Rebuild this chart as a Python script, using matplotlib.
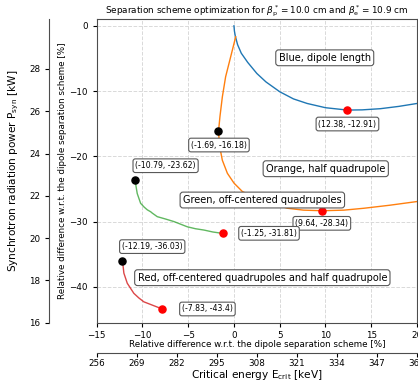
import matplotlib
matplotlib.use("Agg")
import matplotlib.pyplot as plt

# Relative difference curves [%]: x = critical energy change, y = power change
blue_x = [0.0, 0.05, 0.15, 0.4, 0.8, 1.5, 2.5, 3.5, 5.0, 6.5, 8.0, 10.0, 12.38, 14.0, 16.0, 18.0, 20.0, 21.0]
blue_y = [0.0, -0.8, -1.6, -2.9, -4.2, -5.6, -7.3, -8.6, -10.1, -11.2, -11.9, -12.55, -12.91, -12.88, -12.7, -12.35, -11.9, -11.65]

orange_x = [0.19, -0.36, -0.91, -1.27, -1.53, -1.69, -1.56, -1.27, -0.72, 0.0, 0.92, 2.0, 3.28, 4.5, 5.84, 7.6, 9.64, 12.0, 14.2, 17.0, 19.9, 21.0]
orange_y = [-1.68, -4.75, -7.8, -10.9, -13.9, -16.18, -18.5, -20.6, -22.6, -24.1, -25.4, -26.1, -26.7, -27.4, -27.96, -28.25, -28.34, -28.25, -27.96, -27.5, -26.95, -26.7]

green_x = [-10.79, -10.7, -10.57, -10.2, -9.8, -9.47, -9.1, -8.93, -8.38, -7.5, -6.56, -5.1, -4.2, -3.28, -2.3, -1.25]
green_y = [-23.62, -24.6, -25.7, -27.2, -27.8, -28.2, -28.5, -28.7, -29.25, -29.6, -30.0, -30.8, -31.1, -31.3, -31.6, -31.81]

red_x = [-12.19, -12.1, -12.03, -11.66, -10.94, -10.4, -9.85, -8.75, -7.83]
red_y = [-36.03, -37.0, -37.9, -39.45, -41.0, -41.7, -42.3, -42.9, -43.4]

# Start points (black) and optimum points (red)
start_x = [-1.69, -10.79, -12.19]
start_y = [-16.18, -23.62, -36.03]
opt_x = [12.38, 9.64, -1.25, -7.83]
opt_y = [-12.91, -28.34, -31.81, -43.4]

# Point label positions (data coordinates)
start_lbl_xy = [(-1.64, -18.27), (-7.47, -21.44), (-8.93, -33.84)]
opt_lbl_xy = [(12.4, -15.05), (9.6, -30.27), (3.83, -31.8), (-2.9, -43.4)]

series_names = ["Blue, dipole length", "Orange, half quadrupole",
                "Green, off-centered quadrupoles",
                "Red, off-centered quadrupoles and half quadrupole"]
series_lbl_xy = [(9.92, -4.9), (10.03, -21.9), (3.1, -26.7), (3.1, -38.6)]

x_ticks = [-15, -10, -5, 0, 5, 10, 15, 20]
y_ticks = [0, -10, -20, -30, -40]
p_ticks = [16, 18, 20, 22, 24, 26, 28]
e_ticks = [256, 269, 282, 295, 308, 321, 334, 347, 360]

fig = plt.figure(figsize=(4.18, 3.80), dpi=100)
ax = fig.add_axes([0.2313, 0.1508, 0.7663, 0.7984])

ax.plot(blue_x, blue_y, color="tab:blue", lw=1.0)
ax.plot(orange_x, orange_y, color="tab:orange", lw=1.0)
ax.plot(green_x, green_y, color="tab:green", lw=1.0, alpha=0.75)
ax.plot(red_x, red_y, color="tab:red", lw=1.0, alpha=0.85)
ax.scatter(start_x, start_y, s=26, color="black", zorder=5)
ax.scatter(opt_x, opt_y, s=26, color="red", zorder=5)

box = dict(boxstyle="round,pad=0.3", fc="white", ec="0.35", lw=0.8)
for x, y, (tx, ty) in zip(start_x, start_y, start_lbl_xy):
    ax.text(tx, ty, f"({x}, {y})", fontsize=5.6, ha="center", va="center", bbox=box, zorder=6)
for x, y, (tx, ty) in zip(opt_x, opt_y, opt_lbl_xy):
    ax.text(tx, ty, f"({x}, {y})", fontsize=5.6, ha="center", va="center", bbox=box, zorder=6)
for name, (tx, ty) in zip(series_names, series_lbl_xy):
    ax.text(tx, ty, name, fontsize=7.0, ha="center", va="center", bbox=box, zorder=6)

ax.set_xlim(-15, 20)
ax.set_ylim(-45.5, 1.0)
ax.set_xticks(x_ticks)
ax.set_yticks(y_ticks)
ax.tick_params(labelsize=6.3, length=2.8, width=0.8)
ax.grid(True, ls="--", color="0.85", lw=0.7)
ax.set_xlabel("Relative difference w.r.t. the dipole separation scheme [%]", fontsize=6.3, labelpad=0)
ax.set_ylabel("Relative difference w.r.t. the dipole separation scheme [%]", fontsize=6.3, labelpad=2)
ax.set_title(r"Separation scheme optimization for $\beta^*_\mathrm{p}=10.0$ cm and $\beta^*_\mathrm{e}=10.9$ cm",
             fontsize=6.4, pad=3)
for sp in ax.spines.values():
    sp.set_color("0.3")
    sp.set_linewidth(0.8)

# Synchrotron power axis, offset to the left
axp = ax.twinx()
axp.set_ylim(16, 30.35)
axp.set_yticks(p_ticks)
axp.yaxis.tick_left()
axp.yaxis.set_label_position("left")
axp.spines["left"].set_position(("outward", 34.3))
for s in ["right", "top", "bottom"]:
    axp.spines[s].set_visible(False)
axp.spines["left"].set_color("0.3")
axp.spines["left"].set_linewidth(0.8)
axp.tick_params(labelsize=6.3, length=2.8, width=0.8)
axp.set_ylabel(r"Synchrotron radiation power P$_\mathrm{syn}$ [kW]", fontsize=7.6, labelpad=6)

# Critical energy axis, offset below
axe = ax.twiny()
axe.set_xlim(256, 360)
axe.set_xticks(e_ticks)
axe.xaxis.tick_bottom()
axe.xaxis.set_label_position("bottom")
axe.spines["bottom"].set_position(("outward", 21.8))
for s in ["right", "top", "left"]:
    axe.spines[s].set_visible(False)
axe.spines["bottom"].set_color("0.3")
axe.spines["bottom"].set_linewidth(0.8)
axe.tick_params(labelsize=6.3, length=2.8, width=0.8, pad=1.5)
axe.set_xlabel(r"Critical energy E$_\mathrm{crit}$ [keV]", fontsize=7.6, labelpad=0)

fig.savefig("out.png", dpi=100)
